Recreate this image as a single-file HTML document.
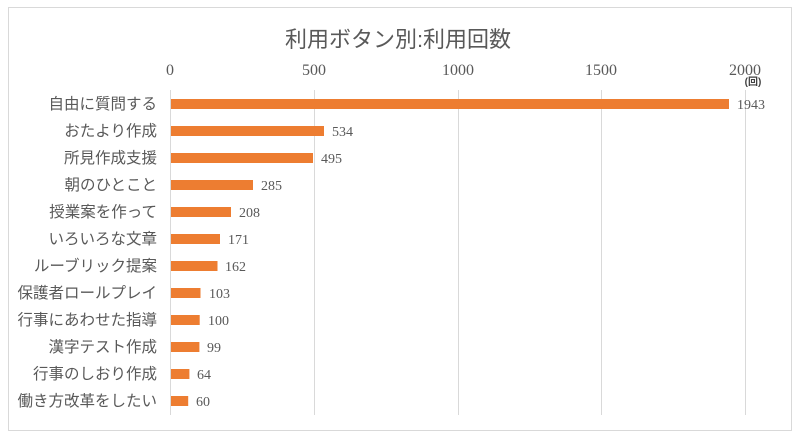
<!DOCTYPE html>
<html><head><meta charset="utf-8"><style>
body{margin:0;background:#fff;}
</style></head><body>
<svg width="800" height="437" xmlns="http://www.w3.org/2000/svg">
<rect x="8.5" y="7.5" width="783" height="423" fill="#fff" stroke="#d9d9d9"/>
<text x="398" y="47" text-anchor="middle" font-family="'Liberation Sans','Noto Sans CJK JP',sans-serif" font-size="22" fill="#595959">利用ボタン別:利用回数</text>
<g stroke="#d9d9d9" stroke-width="1">
<line x1="170.5" y1="90" x2="170.5" y2="415"/>
<line x1="314.5" y1="90" x2="314.5" y2="415"/>
<line x1="458.5" y1="90" x2="458.5" y2="415"/>
<line x1="601.5" y1="90" x2="601.5" y2="415"/>
<line x1="745.5" y1="90" x2="745.5" y2="415"/>
</g>
<g font-family="'Liberation Serif',serif" font-size="16" fill="#595959" text-anchor="middle">
<text x="170" y="75">0</text><text x="314" y="75">500</text><text x="458" y="75">1000</text><text x="601" y="75">1500</text><text x="745" y="75">2000</text>
</g>
<text x="753" y="85" text-anchor="middle" font-family="'Liberation Sans','Noto Sans CJK JP',sans-serif" font-size="10" font-weight="bold" fill="#404040">(回)</text>
<g fill="#ed7d31">
<rect x="171" y="99" width="558" height="10"/>
<rect x="171" y="126" width="153" height="10"/>
<rect x="171" y="153" width="142" height="10"/>
<rect x="171" y="180" width="82" height="10"/>
<rect x="171" y="207" width="60" height="10"/>
<rect x="171" y="234" width="49" height="10"/>
<rect x="171" y="261" width="46.5" height="10"/>
<rect x="171" y="288" width="29.5" height="10"/>
<rect x="171" y="315" width="28.7" height="10"/>
<rect x="171" y="342" width="28.4" height="10"/>
<rect x="171" y="369" width="18.4" height="10"/>
<rect x="171" y="396" width="17.2" height="10"/>
</g>
<g font-family="'Liberation Serif',serif" font-size="14" fill="#595959">
<text x="737" y="109">1943</text><text x="332" y="136">534</text><text x="321" y="163">495</text><text x="261" y="190">285</text><text x="239" y="217">208</text><text x="228" y="244">171</text><text x="225" y="271">162</text><text x="209" y="298">103</text><text x="208" y="325">100</text><text x="207" y="352">99</text><text x="197" y="379">64</text><text x="196" y="406">60</text>
</g>
<g font-family="'Liberation Sans','Noto Sans CJK JP',sans-serif" font-size="15.5" fill="#595959" text-anchor="end">
<text x="157" y="109">自由に質問する</text>
<text x="157" y="136">おたより作成</text>
<text x="157" y="163">所見作成支援</text>
<text x="157" y="190">朝のひとこと</text>
<text x="157" y="217">授業案を作って</text>
<text x="157" y="244">いろいろな文章</text>
<text x="157" y="271">ルーブリック提案</text>
<text x="157" y="298">保護者ロールプレイ</text>
<text x="157" y="325">行事にあわせた指導</text>
<text x="157" y="352">漢字テスト作成</text>
<text x="157" y="379">行事のしおり作成</text>
<text x="157" y="406">働き方改革をしたい</text>
</g>
</svg>
</body></html>
